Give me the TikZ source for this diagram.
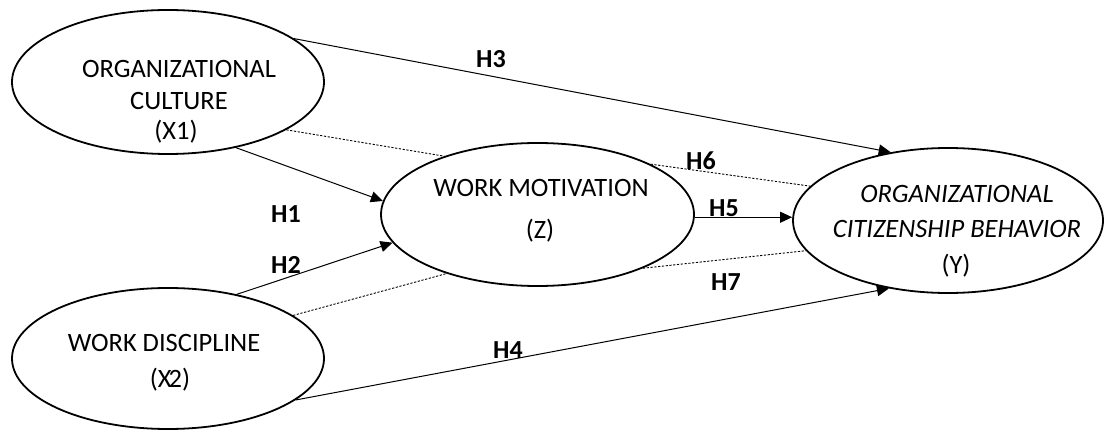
\documentclass[tikz,border=0pt]{standalone}
\usepackage{fontspec}
\setmainfont{Carlito}
\usetikzlibrary{arrows.meta,shapes.geometric}
\begin{document}
\begin{tikzpicture}[x=1pt,y=-1pt,
  ell/.style={draw,ellipse,line width=1.8pt,inner sep=0pt},
  txt/.style={anchor=base,inner sep=0pt,font=\fontsize{26.5}{30}\selectfont},
  itxt/.style={anchor=base,inner sep=0pt,font=\fontsize{26.5}{30}\selectfont\itshape},
  hlab/.style={inner sep=0pt,font=\fontsize{26}{30}\selectfont\bfseries,text depth=0pt},
  arr/.style={line width=1pt,-{Triangle[length=12pt,width=11pt]}},
  dotl/.style={line width=0.9pt,dash pattern=on 2.2pt off 1.6pt}]
\useasboundingbox (0,0) rectangle (1106,430);
% ellipses
\node[ell,minimum width=312pt,minimum height=144pt] (x1) at (168,82) {};
\node[ell,minimum width=312pt,minimum height=141pt] (x2) at (168,358.5) {};
\node[ell,minimum width=313pt,minimum height=143pt] (z) at (537.5,214.5) {};
\node[ell,minimum width=310pt,minimum height=145pt] (y) at (948,220.5) {};
% texts
\node[txt] (x1a) at (179,78) {ORGANIZATIONAL};
\node[txt] (x1b) at (179,110) {CULTURE};
\node[txt] (x1c) at (176,140) {(X1)};
\node[txt] (x2a) at (164,352) {WORK DISCIPLINE};
\node[txt] (x2b) at (170,387) {(X\kern-3pt2)};
\node[txt] (za) at (541,197) {WORK MOTIVATION};
\node[txt] (zb) at (540,239) {(Z)};
\node[itxt] (ya) at (957,203) {ORGANIZATIONAL};
\node[itxt] (yb) at (957,238) {CITIZENSHIP BEHAVIOR};
\node[txt] (yc) at (956,274) {(Y)};
% arrows
\draw[arr] (x1.19.4) -- (y.130.1);
\draw[arr] (x1.-44.6) -- (z.175.8);
\draw[arr] (x2.43.5) -- (z.191.2);
\draw[arr] (x2.-18.2) -- (y.229.5);
\draw[arr] (z.-1) -- (y.west |- z.-1);
% dotted
\draw[dotl] (x1.-22.6) -- (z.148.7);
\draw[dotl] (x2.19.3) -- (z.213);
\draw[dotl] (z.24.6) -- (y.166.4);
\draw[dotl] (z.-27.9) -- (y.192.1);
% labels
\node[hlab] (h1) at (286,214) {H1};
\node[hlab] (h2) at (286,265) {H2};
\node[hlab] (h3) at (491,59) {H3};
\node[hlab] (h4) at (508,350) {H4};
\node[hlab] (h5) at (724,208) {H5};
\node[hlab] (h6) at (701,161) {H6};
\node[hlab] (h7) at (726,282) {H7};
\end{tikzpicture}
\end{document}
